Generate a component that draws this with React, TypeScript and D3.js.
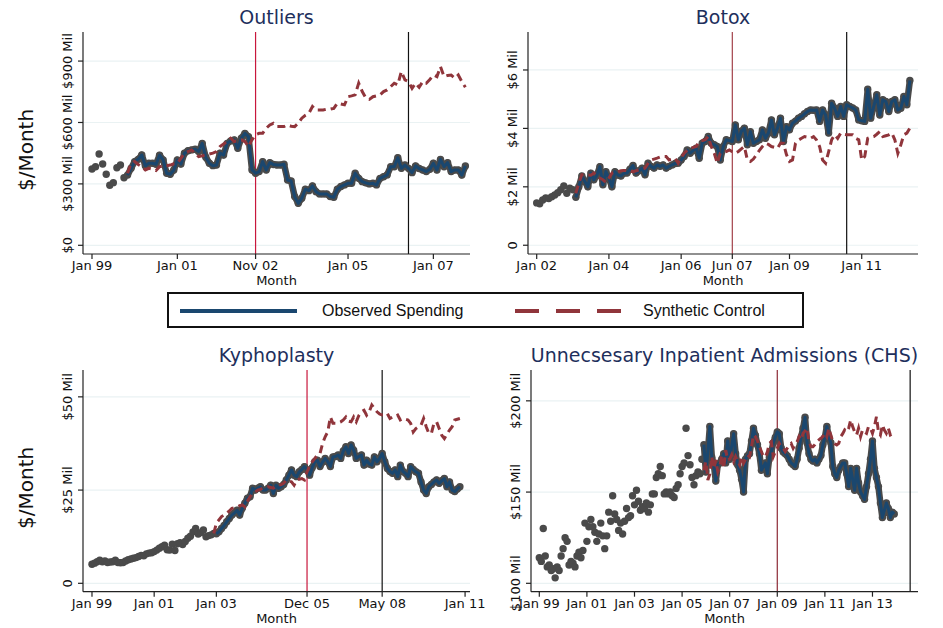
import React from 'react';
import * as d3 from 'd3';

// monthly values; index = months since January of the first year on the axis
// Outliers: Jan 1999 ..., $ Mil
const outliersObserved = [
  373, 384, 446, 397, 347, 293, 306, 379, 392, 330,
  343, 376, 409, 420, 441, 389, 401, 401, 396, 440,
  417, 352, 347, 368, 417, 397, 450, 462, 466, 469,
  458, 498, 430, 401, 389, 392, 450, 441, 498, 510,
  515, 474, 523, 547, 531, 368, 352, 360, 409, 368,
  404, 395, 392, 392, 396, 319, 314, 238, 205, 230,
  274, 267, 290, 262, 251, 251, 251, 238, 235, 274,
  287, 295, 303, 303, 352, 327, 311, 305, 300, 303,
  295, 327, 335, 344, 384, 384, 428, 376, 392, 376,
  355, 388, 375, 368, 360, 371, 401, 368, 420, 384,
  404, 360, 368, 368, 343, 388,
];
const outliersSynthetic = [
  352, 401, 409, 395, 384, 368, 376, 372, 365, 384,
  388, 389, 392, 398, 401, 425, 450, 458, 466, 450,
  433, 437, 441, 446, 450, 458, 482, 495, 507, 523,
  507, 511, 515, 507, 482, 515, 540, 547, 547, 572,
  588, 596, 580, 580, 580, 588, 582, 580, 596, 621,
  635, 645, 678, 661, 661, 661, 665, 665, 669, 694,
  690, 686, 726, 730, 735, 792, 751, 720, 713, 726,
  730, 735, 751, 759, 775, 792, 784, 849, 808, 800,
  767, 792, 772, 800, 792, 810, 832, 824, 873, 824,
  830, 832, 816, 832, 800, 772,
];
const outliersFitStart = 10;
const outliersTicks = [0, 24, 46, 72, 96];
const outliersTickLabels = ['Jan 99', 'Jan 01', 'Nov 02', 'Jan 05', 'Jan 07'];
const outliersYTicks = [0, 300, 600, 900];
const outliersYLabels = ['$0', '$300 Mil', '$600 Mil', '$900 Mil'];

// Botox: Jan 2002 ..., $ Mil
const botoxObserved = [
  1.45, 1.42, 1.55, 1.62, 1.60, 1.66, 1.72, 1.80, 1.90, 2.03,
  1.78, 1.95, 1.90, 1.64, 2.00, 2.37, 2.18, 2.00, 2.47, 2.24,
  2.40, 2.69, 2.07, 2.52, 2.29, 2.00, 2.52, 2.40, 2.37, 2.47,
  2.47, 2.60, 2.73, 2.47, 2.55, 2.64, 2.41, 2.81, 2.70, 2.64,
  2.75, 2.70, 2.75, 2.64, 2.70, 2.75, 2.80, 2.81, 2.92, 3.04,
  3.26, 3.15, 3.25, 3.32, 2.98, 3.49, 3.55, 3.72, 3.49, 3.44,
  3.38, 2.92, 3.38, 3.61, 3.58, 3.55, 4.12, 3.61, 3.90, 4.01,
  3.44, 3.89, 3.49, 3.55, 3.61, 3.95, 3.66, 3.84, 4.29, 3.78,
  4.01, 4.35, 3.55, 4.06, 3.95, 4.18, 4.25, 4.35, 4.41, 4.50,
  4.58, 4.63, 4.62, 4.63, 4.24, 4.63, 4.46, 3.84, 4.86, 4.69,
  4.41, 4.75, 4.41, 4.81, 4.75, 4.70, 4.63, 4.29, 4.26, 4.24,
  5.34, 4.35, 4.75, 5.15, 4.46, 4.98, 4.92, 4.58, 4.92, 4.98,
  4.63, 4.69, 5.09, 4.81, 5.64,
];
const botoxSynthetic = [
  1.78, 2.12, 2.41, 2.41, 2.41, 2.40, 2.47, 2.35, 2.30, 2.24,
  2.15, 2.30, 2.47, 2.50, 2.52, 2.55, 2.56, 2.56, 2.54, 2.52,
  2.55, 2.58, 2.60, 2.64, 2.80, 2.92, 2.95, 2.98, 3.02, 3.04,
  3.04, 2.92, 2.95, 2.98, 2.81, 3.00, 3.15, 3.25, 3.32, 3.35,
  3.38, 3.55, 3.58, 3.61, 3.72, 3.38, 3.15, 2.81, 3.15, 3.18,
  3.21, 3.26, 3.20, 3.15, 3.21, 3.30, 3.38, 2.92, 2.87, 2.95,
  3.09, 3.25, 3.38, 3.49, 3.45, 3.38, 3.35, 3.32, 3.49, 3.49,
  3.10, 2.87, 2.92, 3.49, 3.60, 3.66, 3.72, 3.70, 3.66, 3.72,
  3.60, 3.38, 2.92, 2.81, 3.20, 3.61, 3.78, 3.66, 3.84, 3.80,
  3.78, 3.78, 3.78, 3.66, 3.61, 2.92, 3.04, 3.66, 3.70, 3.72,
  3.80, 3.89, 3.72, 3.75, 3.78, 3.84, 3.61, 3.15, 3.44, 3.78,
  3.84, 4.01,
];
const botoxFitStart = 13;
const botoxTicks = [0, 24, 48, 65, 84, 108];
const botoxTickLabels = ['Jan 02', 'Jan 04', 'Jan 06', 'Jun 07', 'Jan 09', 'Jan 11'];
const botoxYTicks = [0, 2, 4, 6];
const botoxYLabels = ['0', '$2 Mil', '$4 Mil', '$6 Mil'];

// Kyphoplasty: Jan 1999 ..., $ Mil
const kyphoObserved = [
  5.1, 5.4, 5.8, 6.2, 5.8, 6.0, 5.6, 5.7, 5.8, 6.2,
  5.6, 5.5, 5.6, 6.0, 6.3, 6.5, 6.7, 6.9, 7.2, 7.5,
  7.4, 7.9, 8.1, 8.2, 8.5, 8.9, 9.4, 9.8, 10.2, 9.0,
  8.9, 10.5, 8.8, 10.6, 10.9, 10.4, 11.2, 12.1, 12.6, 13.8,
  14.7, 13.2, 13.6, 14.3, 12.5, 12.8, 13.0, 13.4, 13.3, 13.8,
  14.7, 15.5, 16.5, 17.4, 18.3, 18.9, 19.6, 18.3, 20.1, 21.5,
  22.8, 23.2, 25.5, 25.0, 25.5, 25.9, 25.0, 25.0, 25.5, 26.3,
  24.1, 26.3, 25.5, 25.9, 26.5, 27.7, 29.0, 30.4, 29.0, 28.6,
  29.9, 30.5, 31.3, 30.4, 29.0, 31.0, 32.6, 33.0, 31.3, 32.5,
  33.5, 32.6, 31.3, 33.9, 34.0, 34.4, 33.5, 35.5, 36.6, 34.8,
  37.1, 35.7, 33.5, 34.0, 34.4, 31.7, 33.0, 32.0, 31.7, 33.9,
  32.6, 33.5, 34.8, 32.6, 30.8, 30.0, 29.5, 30.4, 28.6, 31.7,
  30.0, 29.5, 28.6, 31.3, 30.5, 29.9, 29.5, 27.2, 25.0, 24.1,
  25.9, 26.5, 27.2, 27.7, 26.8, 27.5, 28.1, 25.9, 27.2, 25.0,
  24.6, 25.3, 25.9,
];
const kyphoSynthetic = [
  13.4, 16.1, 17.0, 17.9, 18.3, 18.75, 19.4, 20.1, 20.3, 20.5,
  20.8, 21.0, 20.5, 22.0, 23.2, 24.1, 24.5, 25.0, 25.2, 25.5,
  25.7, 25.9, 25.7, 25.5, 26.0, 26.3, 26.5, 26.8, 27.7, 27.4,
  27.2, 26.3, 27.7, 27.9, 28.1, 27.7, 29.9, 31.5, 32.6, 33.5,
  34.4, 34.8, 37.5, 39.3, 40.6, 44.6, 42.9, 42.9, 43.0, 43.3,
  43.8, 44.6, 43.5, 43.3, 44.6, 43.3, 45.0, 46.0, 46.4, 45.1,
  46.0, 47.8, 46.9, 46.0, 45.4, 45.1, 45.1, 45.5, 44.2, 44.6,
  44.6, 45.1, 43.8, 44.2, 44.0, 43.8, 42.9, 40.6, 41.5, 42.0,
  42.4, 44.2, 42.0, 40.2, 40.2, 42.9, 43.3, 41.5, 39.7, 38.8,
  40.0, 41.1, 42.0, 43.8, 44.0, 44.2,
];
const kyphoFitStart = 48;
const kyphoSynthStart = 47;
const kyphoTicks = [0, 24, 48, 83, 112, 144];
const kyphoTickLabels = ['Jan 99', 'Jan 01', 'Jan 03', 'Dec 05', 'May 08', 'Jan 11'];
const kyphoYTicks = [0, 25, 50];
const kyphoYLabels = ['0', '$25 Mil', '$50 Mil'];

// Unnecessary inpatient admissions (CHS): Jan 1999 ..., $ Mil
const chsObserved = [
  114, 112, 130, 115, 109, 110, 107, 108, 103, 109,
  107, 115, 119, 125, 123, 110, 112, 111, 109, 115,
  117, 114, 118, 133, 123, 131, 135, 131, 128, 123,
  127, 133, 126, 119, 126, 139, 134, 148, 138, 135,
  129, 133, 127, 134, 141, 136, 137, 148, 143, 151,
  145, 140, 142, 141, 144, 139, 143, 149, 149, 158,
  160, 164, 159, 149, 150, 149, 150, 148, 147, 152,
  154, 160, 164, 166, 185, 170, 165, 158, 154, 159,
  161, 160, 168, 176, 161, 172, 186, 169, 165, 156,
  165, 166, 168, 171, 166, 178, 168, 175, 182, 171,
  165, 162, 157, 150, 168, 170, 171, 178, 185, 181,
  176, 171, 162, 164, 166, 160, 169, 172, 177, 180,
  183, 182, 174, 172, 171, 170, 168, 166, 165, 164,
  168, 174, 180, 185, 191, 177, 171, 168, 167, 168,
  166, 168, 170, 176, 180, 186, 180, 177, 164, 160,
  158, 162, 164, 166, 166, 160, 153, 163, 157, 151,
  163, 155, 150, 148, 146, 153, 160, 168, 178, 163,
  158, 153, 144, 136, 140, 144, 141, 136, 139, 138,
];
const chsSynthetic = [
  162, 166.7, 156.6, 160, 169.4, 163, 167.6, 161.2, 164, 170.3,
  163, 173, 167.6, 168, 170.3, 166.7, 169.4, 167, 164.9, 169.4,
  165.8, 168, 170.3, 169.4, 174.9, 181.3, 180.4, 178, 174.9, 172.2,
  169.4, 169.4, 172, 176.7, 177.6, 169.4, 172, 174, 176.7, 174.9,
  174, 172.2, 174, 175.8, 176.7, 174, 176, 177.6, 180.4, 178.6,
  182.2, 183.5, 185, 177.6, 174.9, 174.9, 176, 177.6, 178.6, 179.5,
  180.5, 182.2, 180.4, 185, 181.3, 177.6, 176.5, 175.8, 176.7, 180.4,
  182, 184.1, 183.1, 185, 189.5, 185.9, 183, 181.3, 185, 180.4,
  184.1, 183, 182.2, 185.9, 185, 182.2, 186, 191.3, 183.1, 181.3,
  186.8, 184, 182.2, 185, 181.3, 182, 183.1,
];
const chsFitStart = 83;
const chsTicks = [0, 24, 48, 72, 96, 120, 144, 168];
const chsTickLabels = ['Jan 99', 'Jan 01', 'Jan 03', 'Jan 05', 'Jan 07', 'Jan 09', 'Jan 11', 'Jan 13'];
const chsYTicks = [100, 150, 200];
const chsYLabels = ['$100 Mil', '$150 Mil', '$200 Mil'];

const NAVY = '#1a476f';
const MAROON = '#90353b';
const MARKER = '#4a4a4a';
const FONT = '"DejaVu Sans", Verdana, sans-serif';

type Pt = { m: number; v: number };

function Panel(p: any) {
  const x = d3.scaleLinear().domain(p.xDomain).range([p.left, p.right]);
  const y = d3.scaleLinear().domain(p.yDomain).range([p.bottom, p.top]);
  const obs: Pt[] = p.observed.map((v: number, i: number) => ({ m: i, v }));
  const pre = obs.filter(d => d.m < p.fitStart);
  const fit = obs.filter(d => d.m >= p.fitStart);
  const syn: Pt[] = p.synthetic.map((v: number, i: number) => ({ m: i + p.synthStart, v }));
  const line = d3.line<Pt>().x(d => x(d.m)).y(d => y(d.v));
  const cx = (p.left + p.right) / 2;

  return (
    <g>
      <text x={cx} y={p.top - 8} textAnchor="middle" fontFamily={FONT} fontSize={19} fill="#1e2f5c">{p.title}</text>
      {p.yTicks.map((t: number) => (
        <line key={'g' + t} x1={p.left} x2={p.right} y1={y(t)} y2={y(t)} stroke="#eaf2f3" strokeWidth={1.2} />
      ))}
      <line x1={x(p.treat)} x2={x(p.treat)} y1={p.top} y2={p.bottom} stroke={p.treatColor} strokeWidth={1.2} />
      <line x1={x(p.black)} x2={x(p.black)} y1={p.top} y2={p.bottom} stroke="#111" strokeWidth={1.2} />

      {pre.map(d => <circle key={'p' + d.m} cx={x(d.m)} cy={y(d.v)} r={3.7} fill={MARKER} />)}
      <path d={line(fit) || ''} fill="none" stroke={MARKER} strokeWidth={6.5} strokeLinejoin="round" />
      {fit.map(d => <circle key={'f' + d.m} cx={x(d.m)} cy={y(d.v)} r={3.7} fill={MARKER} />)}
      <path d={line(fit) || ''} fill="none" stroke={NAVY} strokeWidth={3} strokeLinejoin="round" />
      <path d={line(syn) || ''} fill="none" stroke={MAROON} strokeWidth={3} strokeDasharray="8,5" />

      <line x1={p.left} x2={p.left} y1={p.top} y2={p.bottom} stroke="#222" strokeWidth={1.2} />
      <line x1={p.left} x2={p.right} y1={p.bottom} y2={p.bottom} stroke="#222" strokeWidth={1.2} />
      {p.yTicks.map((t: number, i: number) => (
        <g key={'y' + t}>
          <line x1={p.left - 5} x2={p.left} y1={y(t)} y2={y(t)} stroke="#222" strokeWidth={1.2} />
          <text transform={`translate(${p.left - 11},${y(t)}) rotate(-90)`} textAnchor="middle" fontFamily={FONT} fontSize={13} fill="#111">{p.yLabels[i]}</text>
        </g>
      ))}
      {p.xTicks.map((t: number, i: number) => (
        <g key={'x' + t}>
          <line x1={x(t)} x2={x(t)} y1={p.bottom} y2={p.bottom + 5} stroke="#222" strokeWidth={1.2} />
          <text x={x(t)} y={p.bottom + 16} textAnchor="middle" fontFamily={FONT} fontSize={13} fill="#111">{p.xLabels[i]}</text>
        </g>
      ))}
      <text x={cx} y={p.bottom + 31} textAnchor="middle" fontFamily={FONT} fontSize={13} fill="#111">Month</text>
      {p.yTitle && (
        <text transform={`translate(33,${(p.top + p.bottom) / 2 + 7}) rotate(-90)`} textAnchor="middle" fontFamily={FONT} fontSize={20} fill="#111">$/Month</text>
      )}
    </g>
  );
}

export default function App() {
  return (
    <svg width={943} height={628} style={{ position: 'absolute', left: 0, top: 0, background: '#fff' }}>
      <rect width={943} height={628} fill="#fff" />
      <Panel title="Outliers" left={83} right={470} top={32} bottom={254}
        xDomain={[-2.53, 106.3]} yDomain={[-42.5, 1042]}
        observed={outliersObserved} fitStart={outliersFitStart}
        synthetic={outliersSynthetic} synthStart={outliersFitStart}
        treat={46} treatColor="#c8173c" black={89}
        xTicks={outliersTicks} xLabels={outliersTickLabels}
        yTicks={outliersYTicks} yLabels={outliersYLabels} yTitle />
      <Panel title="Botox" left={528} right={918} top={32} bottom={254}
        xDomain={[-2.89, 126.7]} yDomain={[-0.3, 7.3]}
        observed={botoxObserved} fitStart={botoxFitStart}
        synthetic={botoxSynthetic} synthStart={botoxFitStart}
        treat={65} treatColor="#a3414a" black={103}
        xTicks={botoxTicks} xLabels={botoxTickLabels}
        yTicks={botoxYTicks} yLabels={botoxYLabels} />
      <Panel title="Kyphoplasty" left={83} right={470} top={370} bottom={591.7}
        xDomain={[-3.47, 145.9]} yDomain={[-2.25, 57.2]}
        observed={kyphoObserved} fitStart={kyphoFitStart}
        synthetic={kyphoSynthetic} synthStart={kyphoSynthStart}
        treat={83} treatColor="#c8173c" black={112}
        xTicks={kyphoTicks} xLabels={kyphoTickLabels}
        yTicks={kyphoYTicks} yLabels={kyphoYLabels} yTitle />
      <Panel title="Unnecsesary Inpatient Admissions (CHS)" left={531} right={918} top={370} bottom={591.7}
        xDomain={[-4.19, 190.96]} yDomain={[95.4, 216.9]}
        observed={chsObserved} fitStart={chsFitStart}
        synthetic={chsSynthetic} synthStart={chsFitStart}
        treat={120} treatColor="#8c2a35" black={187}
        xTicks={chsTicks} xLabels={chsTickLabels}
        yTicks={chsYTicks} yLabels={chsYLabels} />

      <rect x={168} y={293} width={635} height={34} fill="#fff" stroke="#111" strokeWidth={2} />
      <line x1={180} x2={297} y1={311} y2={311} stroke={NAVY} strokeWidth={4} />
      <text x={322} y={316} fontFamily='"Liberation Sans", Arial, sans-serif' fontSize={16} fill="#111">Observed Spending</text>
      <line x1={515} x2={622} y1={311} y2={311} stroke={MAROON} strokeWidth={4} strokeDasharray="24,17" />
      <text x={643} y={316} fontFamily='"Liberation Sans", Arial, sans-serif' fontSize={16} fill="#111">Synthetic Control</text>
    </svg>
  );
}
